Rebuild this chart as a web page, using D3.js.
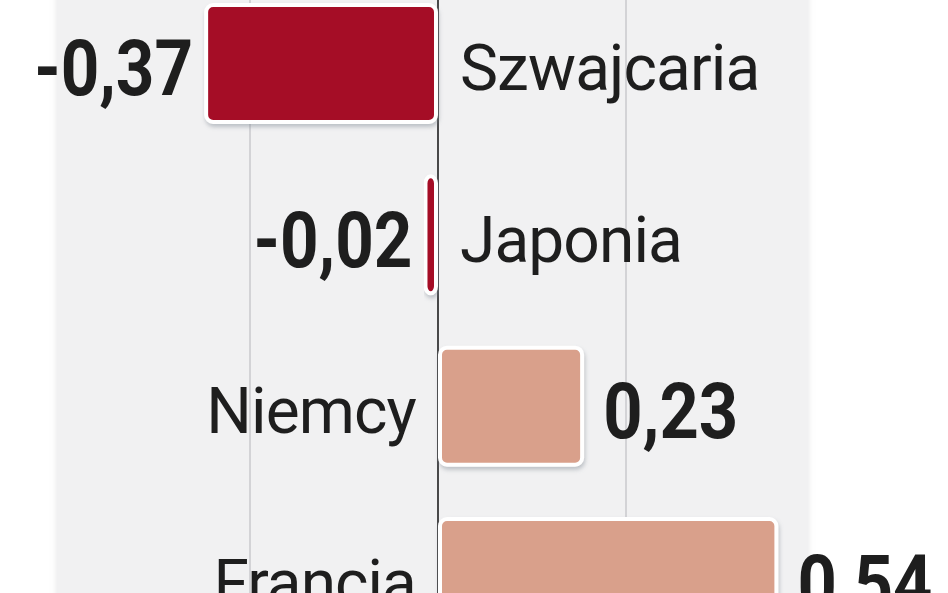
<!DOCTYPE html>
<html>
<head>
<meta charset="utf-8">
<script src="https://cdn.jsdelivr.net/npm/d3@7"></script>
<style>
  html, body { margin: 0; padding: 0; background: #ffffff; overflow: hidden; }
</style>
</head>
<body>
<div id="chart"></div>
<script>
// dane
const categories = ["Szwajcaria", "Japonia", "Niemcy", "Francja"];
const values     = [-0.37, -0.02, 0.23, 0.54];
const gridTicks  = [-0.3, 0.3];

const W = 948, H = 593;

const svg = d3.select("#chart")
  .append("svg")
    .attr("width", W)
    .attr("height", H);

const defs = svg.append("defs");
const shadow = defs.append("filter")
    .attr("id", "shadow")
    .attr("x", "-10%").attr("y", "-10%")
    .attr("width", "130%").attr("height", "140%");
shadow.append("feDropShadow")
    .attr("dx", 1).attr("dy", 3)
    .attr("stdDeviation", 2)
    .attr("flood-color", "#7d8590")
    .attr("flood-opacity", 0.45);

const panelShadow = defs.append("filter")
    .attr("id", "panelShadow")
    .attr("x", "-5%").attr("y", "-5%")
    .attr("width", "110%").attr("height", "110%");
panelShadow.append("feDropShadow")
    .attr("dx", 0).attr("dy", 0)
    .attr("stdDeviation", 3)
    .attr("flood-color", "#c8c8cc")
    .attr("flood-opacity", 0.5);

// tło panelu
svg.append("rect")
    .attr("x", 57).attr("y", -30)
    .attr("width", 751).attr("height", H + 60)
    .attr("rx", 18)
    .attr("fill", "#f1f1f2")
    .attr("filter", "url(#panelShadow)");

// skale
const x = d3.scaleLinear()
    .domain([-0.3, 0.3])
    .range([250, 626]);

const y = d3.scaleBand()
    .domain(categories)
    .range([3, 638])
    .paddingInner(0.294)
    .paddingOuter(0);

const fmt = d3.formatLocale({ decimal: ",", thousands: " ", grouping: [3], currency: ["", " zł"], minus: "-" })
    .format(".2f");

const data = categories.map((c, i) => ({ name: c, value: values[i] }));

// linie siatki
svg.selectAll("line.grid")
  .data(gridTicks)
  .enter()
  .append("line")
    .attr("class", "grid")
    .attr("x1", d => x(d)).attr("x2", d => x(d))
    .attr("y1", 0).attr("y2", H)
    .attr("stroke", "#c9c9cc")
    .attr("stroke-width", 1.5);

// linia zera
svg.append("line")
    .attr("x1", x(0)).attr("x2", x(0))
    .attr("y1", 0).attr("y2", H)
    .attr("stroke", "#1f1f1f")
    .attr("stroke-width", 1.6);

// słupki
svg.selectAll("rect.bar")
  .data(data)
  .enter()
  .append("rect")
    .attr("class", "bar")
    .attr("x", d => Math.min(x(d.value), x(0)) + (d.value < 0 ? 0 : 2))
    .attr("y", d => y(d.name) + 2)
    .attr("width", d => Math.abs(x(d.value) - x(0)) - 2)
    .attr("height", y.bandwidth() - 4)
    .attr("rx", 7)
    .attr("fill", d => d.value < 0 ? "#a50e28" : "#d9a08b")
    .attr("stroke", "#ffffff")
    .attr("stroke-width", 4)
    .attr("filter", "url(#shadow)");

// nazwy krajów
svg.selectAll("text.name")
  .data(data)
  .enter()
  .append("text")
    .attr("class", "name")
    .attr("x", d => d.value < 0 ? x(0) + 22 : x(0) - 22)
    .attr("y", d => y(d.name) + y.bandwidth() / 2 + 27)
    .attr("text-anchor", d => d.value < 0 ? "start" : "end")
    .attr("font-family", "Roboto, 'Noto Sans', sans-serif")
    .attr("font-size", 64)
    .attr("letter-spacing", -0.9)
    .attr("fill", "#1e1e1e")
    .text(d => d.name);

// wartości
svg.selectAll("text.value")
  .data(data)
  .enter()
  .append("text")
    .attr("class", "value")
    .attr("x", d => d.value < 0 ? x(d.value) - 13 : x(d.value) + 21)
    .attr("y", d => y(d.name) + y.bandwidth() / 2 + 32)
    .attr("text-anchor", d => d.value < 0 ? "end" : "start")
    .attr("font-family", "Roboto, 'Liberation Sans', sans-serif")
    .attr("font-weight", "bold")
    .attr("font-size", 77)
    .attr("fill", "#1e1e1e")
    .attr("textLength", d => d.value < 0 ? 159 : 135)
    .attr("lengthAdjust", "spacingAndGlyphs")
    .text(d => fmt(d.value));
</script>
</body>
</html>
